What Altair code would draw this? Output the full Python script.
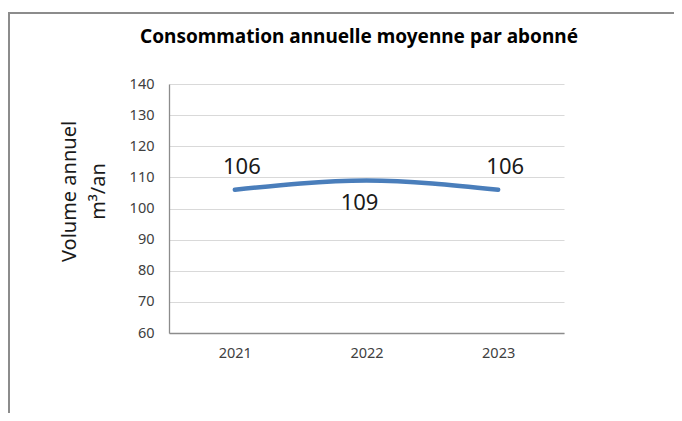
import altair as alt
import pandas as pd

years = ["2021", "2022", "2023"]
volumes = [106, 109, 106]
y_ticks = [60, 70, 80, 90, 100, 110, 120, 130, 140]
title_text = "Consommation annuelle moyenne par abonné"
y_title = ["Volume annuel", "m³/an"]

df = pd.DataFrame({"year": years, "volume": volumes})

FONT = "Noto Sans"
W, H = 395, 249

base = alt.Chart(df)

x_enc = alt.X("year:N", title=None, sort=years,
              scale=alt.Scale(paddingInner=0, paddingOuter=0),
              axis=alt.Axis(labelAngle=0, labelFontSize=14.5, labelFont=FONT,
                            labelColor="#404040", labelPadding=13, ticks=False,
                            domainColor="#8c8c8c", domainWidth=1.3, grid=False))
y_enc = alt.Y("volume:Q", title=y_title,
              scale=alt.Scale(domain=[60, 140], nice=False),
              axis=alt.Axis(values=y_ticks, labelOverlap=False,
                            labelFontSize=14.5, labelFont=FONT,
                            labelColor="#404040", labelPadding=15, ticks=False,
                            domainColor="#8c8c8c", domainWidth=1.3,
                            gridColor="#d9d9d9", gridWidth=1.2,
                            titleFont=FONT, titleFontSize=20, titleFontWeight="normal",
                            titleColor="#1a1a1a", titleLineHeight=29,
                            titleX=-94, titleY=107, titleAngle=-90,
                            titleAlign="center", titleBaseline="alphabetic"))

line = base.mark_line(color="#4a7ebb", strokeWidth=4.5, interpolate="monotone",
                      strokeCap="round").encode(x=x_enc, y=y_enc)

txt_above = base.transform_filter(alt.datum.year != "2022").mark_text(
    fontSize=22, font=FONT, color="#1a1a1a", dy=-23, dx=7).encode(
    x=x_enc, y=y_enc, text="volume:Q")
txt_below = base.transform_filter(alt.datum.year == "2022").mark_text(
    fontSize=22, font=FONT, color="#1a1a1a", dy=23, dx=-7).encode(
    x=x_enc, y=y_enc, text="volume:Q")

one = pd.DataFrame({"t": [title_text]})
title_mark = alt.Chart(one).mark_text(font=FONT, fontSize=19, fontWeight="bold",
                                       color="#000000", baseline="alphabetic", align="center").encode(
    x=alt.value(190), y=alt.value(-41), text="t:N")

frame_top = alt.Chart(one).mark_rule(color="#8c8c8c", strokeWidth=2).encode(
    x=alt.value(-161), x2=alt.value(520), y=alt.value(-71))
frame_left = alt.Chart(one).mark_rule(color="#8c8c8c", strokeWidth=2).encode(
    x=alt.value(-160), y=alt.value(-71), y2=alt.value(340))

chart = alt.layer(line, txt_above, txt_below, title_mark, frame_top, frame_left).properties(
    width=W, height=H,
    autosize=alt.AutoSizeParams(type="none"),
    padding={"left": 161, "top": 76, "right": 110, "bottom": 80},
).configure(background="white").configure_view(stroke=None)

chart.save("out.html", embed_options={"renderer": "svg", "actions": False})
